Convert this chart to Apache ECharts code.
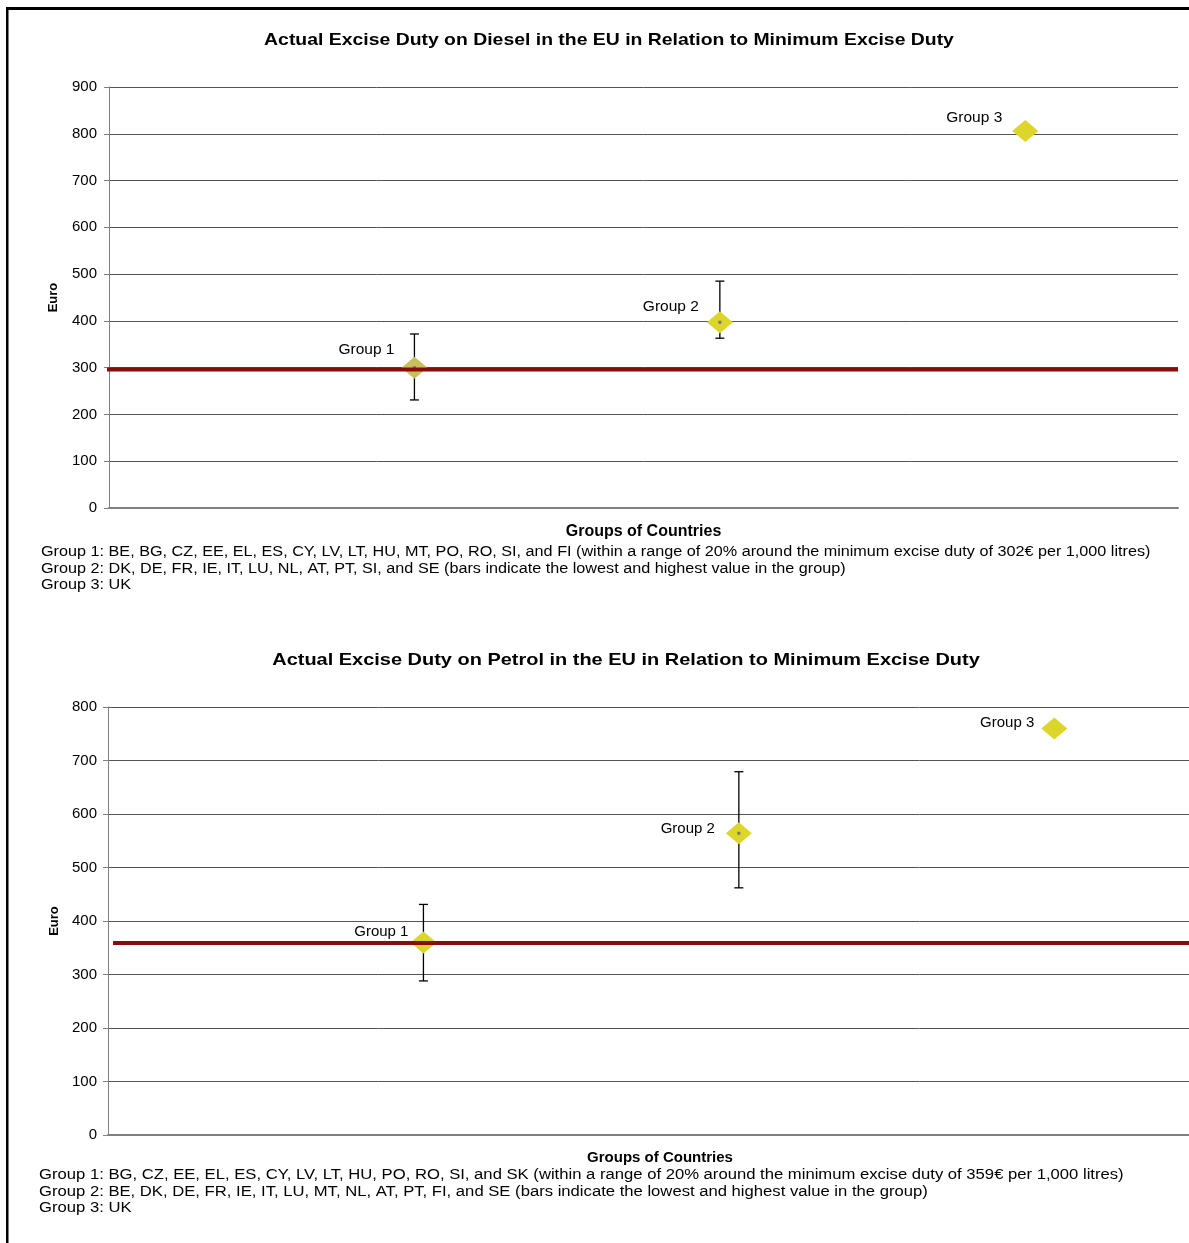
<!DOCTYPE html>
<html>
<head>
<meta charset="utf-8">
<script src="https://cdn.jsdelivr.net/npm/echarts@6/dist/echarts.min.js"></script>
<style>
html,body{margin:0;padding:0;background:#fff;}
#c{width:1189px;height:1243px;}
</style>
</head>
<body>
<div id="c"></div>
<script>
// ---- data ----
var groupNames = ['Group 1', 'Group 2', 'Group 3'];
var groupX = [1, 2, 3];

var dieselTitle = 'Actual Excise Duty on Diesel in the EU in Relation to Minimum Excise Duty';
var dieselValues = [300, 397, 806];
var dieselLow = [231, 363];
var dieselHigh = [372, 485];
var dieselMinimum = 296;
var dieselTicks = [0, 100, 200, 300, 400, 500, 600, 700, 800, 900];
var dieselNotes = [
  'Group 1: BE, BG, CZ, EE, EL, ES, CY, LV, LT, HU, MT, PO, RO, SI, and FI (within a range of 20% around the minimum excise duty of 302\u20ac per 1,000 litres)',
  'Group 2: DK, DE, FR, IE, IT, LU, NL, AT, PT, SI, and SE (bars indicate the lowest and highest value in the group)',
  'Group 3: UK'
];

var petrolTitle = 'Actual Excise Duty on Petrol in the EU in Relation to Minimum Excise Duty';
var petrolValues = [360, 564, 760];
var petrolLow = [288, 462];
var petrolHigh = [431, 679];
var petrolMinimum = 359;
var petrolTicks = [0, 100, 200, 300, 400, 500, 600, 700, 800];
var petrolNotes = [
  'Group 1: BG, CZ, EE, EL, ES, CY, LV, LT, HU, PO, RO, SI, and SK (within a range of 20% around the minimum excise duty of 359\u20ac per 1,000 litres)',
  'Group 2: BE, DK, DE, FR, IE, IT, LU, MT, NL, AT, PT, FI, and SE (bars indicate the lowest and highest value in the group)',
  'Group 3: UK'
];

var xAxisName = 'Groups of Countries';
var yAxisName = 'Euro';

// ---- styling (label placement per point, not data) ----
var dieselLabelDist = [7, 8, 10];
var dieselLabelOffY = [-18, -16, -13];
var petrolLabelDist = [2, 11, 7];
var petrolLabelOffY = [-11, -4, -6];

// ---- build ----
var FONT = '"Liberation Sans", Arial, Helvetica, sans-serif';
var YELLOW = '#dcd62b';
var OLIVE = '#c9c05c';
var RED = '#8b0a0a';

function pts(vals) {
  return vals.map(function (v, i) { return [groupX[i], v, groupNames[i]]; });
}
function errData(low, high) {
  return low.map(function (l, i) { return [groupX[i], l, high[i]]; });
}

var chart = echarts.init(document.getElementById('c'), null, {renderer: 'canvas'});

function errSeries(idx, low, high) {
  return {
    type: 'custom', xAxisIndex: idx, yAxisIndex: idx, z: 2,
    data: errData(low, high),
    renderItem: function (params, api) {
      var x = api.value(0);
      var lo = api.coord([x, api.value(1)]);
      var hi = api.coord([x, api.value(2)]);
      var cap = 4.5;
      var st = {stroke: '#000', lineWidth: 1.3};
      return {type: 'group', children: [
        {type: 'line', shape: {x1: lo[0], y1: lo[1], x2: hi[0], y2: hi[1]}, style: st},
        {type: 'line', shape: {x1: lo[0] - cap, y1: lo[1], x2: lo[0] + cap, y2: lo[1]}, style: st},
        {type: 'line', shape: {x1: hi[0] - cap, y1: hi[1], x2: hi[0] + cap, y2: hi[1]}, style: st}
      ]};
    }
  };
}

function diamondSeries(idx, vals, firstColor, fontSize, dists, offs) {
  return {
    type: 'scatter', xAxisIndex: idx, yAxisIndex: idx, z: 3,
    symbol: 'diamond', symbolSize: [26, 22],
    itemStyle: {opacity: 1},
    data: pts(vals).map(function (p, i) {
      return {
        value: p,
        itemStyle: {color: i === 0 ? firstColor : YELLOW, opacity: 1},
        label: {distance: dists[i], offset: [0, offs[i]]}
      };
    }),
    label: {
      show: true, position: 'left',
      formatter: function (p) { return p.value[2]; },
      color: '#000', fontFamily: FONT, fontSize: fontSize
    },
    emphasis: {disabled: true}
  };
}

function dotSeries(idx, vals) {
  return {
    type: 'scatter', xAxisIndex: idx, yAxisIndex: idx, z: 4,
    symbol: 'rect', symbolSize: 3, silent: true,
    itemStyle: {color: '#777', opacity: 1},
    data: pts(vals.slice(0, 2))
  };
}

function minLine(idx, x0, x1, v) {
  return {
    type: 'line', xAxisIndex: idx, yAxisIndex: idx, z: 5, clip: false,
    symbol: 'none', silent: true,
    lineStyle: {color: RED, width: 4},
    data: [[x0, v], [x1, v]]
  };
}

function yAx(idx, ticks, gap, margin) {
  return {
    type: 'value', gridIndex: idx,
    min: ticks[0], max: ticks[ticks.length - 1], interval: ticks[1] - ticks[0],
    name: yAxisName, nameLocation: 'middle', nameGap: gap,
    nameTextStyle: {fontFamily: FONT, fontWeight: 'bold', fontSize: 13, color: '#000'},
    axisLine: {show: true, lineStyle: {color: '#808080', width: 1}},
    axisTick: {show: true, length: 5, lineStyle: {color: '#808080'}},
    axisLabel: {fontFamily: FONT, fontSize: 15, color: '#000', margin: margin},
    splitLine: {show: true, lineStyle: {color: '#555', width: 1}}
  };
}
function xAx(idx, fs, gap) {
  return {
    type: 'value', gridIndex: idx, min: 0, max: 3.5,
    name: xAxisName, nameLocation: 'middle', nameGap: gap,
    nameTextStyle: {fontFamily: FONT, fontWeight: 'bold', fontSize: fs, color: '#000'},
    axisLine: {show: true, onZero: false, lineStyle: {color: '#808080', width: 2}},
    axisTick: {show: false}, axisLabel: {show: false}, splitLine: {show: false}
  };
}

function txt(x, y, s, font, sx) {
  return {type: 'text', x: x, y: y, scaleX: sx,
    style: {text: s, font: font, fill: '#000', align: x > 300 ? 'center' : 'left', verticalAlign: 'middle'}};
}

var graphics = [
  {type: 'rect', shape: {x: 6, y: 7, width: 1200, height: 3}, style: {fill: '#000'}},
  {type: 'rect', shape: {x: 6, y: 7, width: 2.5, height: 1300}, style: {fill: '#000'}},
  txt(609, 40, dieselTitle, 'bold 17px ' + FONT, 1.141),
  txt(626, 660, petrolTitle, 'bold 17px ' + FONT, 1.174)
];
var noteY1 = [552.5, 569, 585.5];
var noteY2 = [1175.5, 1192, 1208.5];
dieselNotes.forEach(function (t, i) {
  graphics.push(txt(41, noteY1[i], t, '14px ' + FONT, 1.157));
});
petrolNotes.forEach(function (t, i) {
  graphics.push(txt(39, noteY2[i], t, '14px ' + FONT, 1.189));
});

var option = {
  backgroundColor: '#fff',
  animation: false,
  grid: [
    {left: 109, top: 87, width: 1069, height: 421, outerBoundsMode: 'none', containLabel: false},
    {left: 108, top: 707, width: 1104, height: 428, outerBoundsMode: 'none', containLabel: false}
  ],
  xAxis: [xAx(0, 16, 16), xAx(1, 15, 15)],
  yAxis: [yAx(0, dieselTicks, 49, 12), yAx(1, petrolTicks, 43, 11)],
  series: [
    errSeries(0, dieselLow, dieselHigh),
    diamondSeries(0, dieselValues, OLIVE, 15.5, dieselLabelDist, dieselLabelOffY),
    dotSeries(0, dieselValues),
    minLine(0, -0.013, 3.5, dieselMinimum),
    errSeries(1, petrolLow, petrolHigh),
    diamondSeries(1, petrolValues, YELLOW, 15, petrolLabelDist, petrolLabelOffY),
    dotSeries(1, petrolValues),
    minLine(1, 0.016, 3.5, petrolMinimum)
  ],
  graphic: graphics
};
chart.setOption(option);
</script>
</body>
</html>
